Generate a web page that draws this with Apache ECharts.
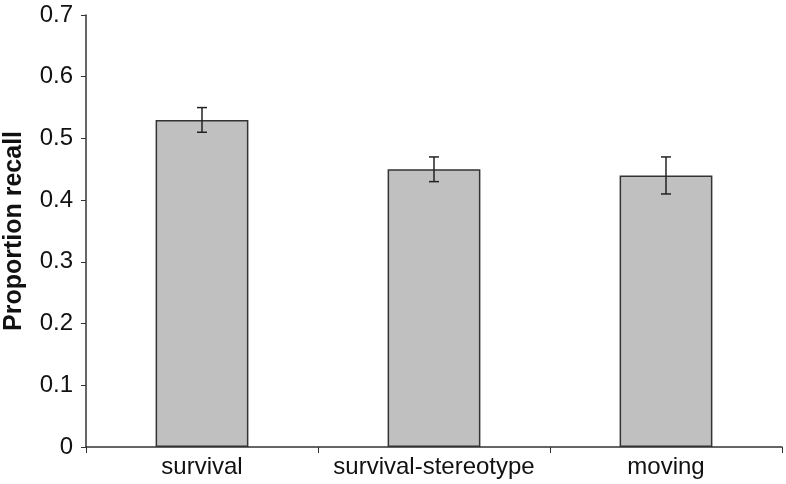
<!DOCTYPE html>
<html>
<head>
<meta charset="utf-8">
<script src="https://cdn.jsdelivr.net/npm/echarts@6/dist/echarts.min.js"></script>
<style>
  html, body { margin: 0; padding: 0; background: #fff; }
  #chart { width: 786px; height: 484px; }
</style>
</head>
<body>
<div id="chart"></div>
<script>
var categories = ['survival', 'survival-stereotype', 'moving'];
var recall = [0.53, 0.45, 0.44];
var errLow = [0.51, 0.43, 0.41];
var errHigh = [0.55, 0.47, 0.47];

var errData = [];
for (var i = 0; i < categories.length; i++) {
  errData.push([i, errLow[i], errHigh[i]]);
}

var chartDom = document.getElementById('chart');
var myChart = echarts.init(chartDom);
var option;

option = {
  animation: false,
  grid: { left: 86, right: 4, top: 15, bottom: 37, outerBoundsMode: 'none', containLabel: false },
  xAxis: {
    type: 'category',
    data: categories,
    axisLine: { lineStyle: { color: '#333', width: 1.5 } },
    axisTick: { show: true, interval: 0, length: 6, lineStyle: { color: '#333' } },
    axisLabel: {
      interval: 0,
      hideOverlap: false,
      color: '#111',
      fontSize: 24,
      fontFamily: 'Liberation Sans, Arial, sans-serif',
      margin: 8
    }
  },
  yAxis: {
    type: 'value',
    min: 0,
    max: 0.7,
    interval: 0.1,
    name: 'Proportion recall',
    nameLocation: 'middle',
    nameGap: 59,
    nameTextStyle: {
      color: '#111',
      fontSize: 25,
      fontWeight: 'bold',
      fontFamily: 'Liberation Sans, Arial, sans-serif'
    },
    splitLine: { show: false },
    axisLine: { show: true, lineStyle: { color: '#333', width: 1.5 } },
    axisTick: { show: true, length: 5, lineStyle: { color: '#333' } },
    axisLabel: {
      color: '#111',
      fontSize: 24,
      fontFamily: 'Liberation Sans, Arial, sans-serif',
      margin: 13,
      formatter: function (v) { return v === 0 ? '0' : v.toFixed(1); }
    }
  },
  series: [
    {
      type: 'bar',
      data: recall,
      barWidth: '40%',
      itemStyle: { color: '#c0c0c0', borderColor: '#333', borderWidth: 1.5 }
    },
    {
      type: 'custom',
      data: errData,
      z: 10,
      renderItem: function (params, api) {
        var x = api.value(0);
        var lo = api.coord([x, api.value(1)]);
        var hi = api.coord([x, api.value(2)]);
        var w = 5;
        var st = { stroke: '#222', lineWidth: 1.5 };
        return {
          type: 'group',
          children: [
            { type: 'line', shape: { x1: lo[0], y1: lo[1], x2: hi[0], y2: hi[1] }, style: st },
            { type: 'line', shape: { x1: lo[0] - w, y1: lo[1], x2: lo[0] + w, y2: lo[1] }, style: st },
            { type: 'line', shape: { x1: hi[0] - w, y1: hi[1], x2: hi[0] + w, y2: hi[1] }, style: st }
          ]
        };
      }
    }
  ]
};

option && myChart.setOption(option);
</script>
</body>
</html>
